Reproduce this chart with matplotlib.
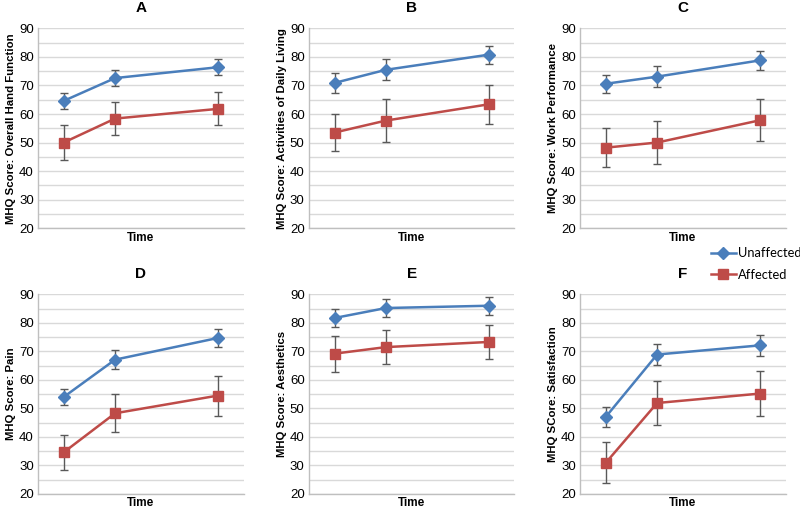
import numpy as np
import matplotlib
matplotlib.use('Agg')
import matplotlib.pyplot as plt

plt.rcParams['font.family'] = ['Liberation Sans', 'DejaVu Sans']

# time points (follow-up, months) - spacing
times = [3, 6, 12]

panels = ['A', 'B', 'C', 'D', 'E', 'F']
ylabels = ['MHQ Score: Overall Hand Function',
           'MHQ Score: Activities of Daily Living',
           'MHQ Score: Work Performance',
           'MHQ Score: Pain',
           'MHQ Score: Aesthetics',
           'MHQ SCore: Satisfaction']

# mean scores
unaffected = [
    [64.6, 72.6, 76.4],
    [70.9, 75.5, 80.8],
    [70.6, 73.1, 78.8],
    [54.0, 67.1, 74.7],
    [81.7, 85.2, 86.0],
    [47.0, 68.9, 72.1],
]
affected = [
    [50.0, 58.4, 61.8],
    [53.5, 57.7, 63.4],
    [48.2, 50.0, 57.8],
    [34.6, 48.3, 54.5],
    [69.2, 71.5, 73.3],
    [30.9, 51.9, 55.2],
]
# error bar half-widths
unaffected_err = [
    [2.9, 2.8, 2.8],
    [3.4, 3.7, 3.2],
    [3.2, 3.6, 3.4],
    [2.7, 3.4, 3.3],
    [3.3, 3.0, 3.1],
    [3.4, 3.7, 3.8],
]
affected_err = [
    [6.0, 5.7, 5.8],
    [6.6, 7.6, 6.8],
    [6.8, 7.4, 7.3],
    [6.1, 6.7, 7.0],
    [6.3, 6.0, 6.1],
    [7.2, 7.7, 7.8],
]

blue = '#4A7EBB'
red = '#BE4B48'
grid_c = '#D9D9D9'
err_c = '#595959'

fig = plt.figure(figsize=(8, 5.08), dpi=100)

lefts = [0.0475, 0.386, 0.725]
width = 0.257
bottoms = [0.551, 0.0276]
height = 0.393

handles = []
for i, name in enumerate(panels):
    r, c = divmod(i, 3)
    ax = fig.add_axes([lefts[c], bottoms[r], width, height])
    ax.set_ylim(20, 90)
    ax.set_xlim(1.5, 13.5)
    ax.set_yticks(np.arange(20, 91, 10))
    ax.set_yticks(np.arange(25, 90, 10), minor=True)
    ax.yaxis.grid(True, which='both', color=grid_c, linewidth=1)
    ax.set_axisbelow(True)
    ax.set_xticks([])
    ax.tick_params(axis='y', which='both', length=0, labelsize=9.5, pad=3)
    for s in ['top', 'right']:
        ax.spines[s].set_visible(False)
    for s in ['left', 'bottom']:
        ax.spines[s].set_color('#BFBFBF')
        ax.spines[s].set_linewidth(1)

    ax.errorbar(times, affected[i], yerr=affected_err[i], fmt='none',
                ecolor=err_c, elinewidth=1, capsize=3, capthick=1, zorder=2)
    ax.errorbar(times, unaffected[i], yerr=unaffected_err[i], fmt='none',
                ecolor=err_c, elinewidth=1, capsize=3, capthick=1, zorder=2)
    h1, = ax.plot(times, unaffected[i], color=blue, linewidth=1.8, marker='D',
                  markersize=6, zorder=3, label='Unaffected')
    h2, = ax.plot(times, affected[i], color=red, linewidth=1.8, marker='s',
                  markersize=7.5, zorder=3, label='Affected')
    if i == 0:
        handles = [h1, h2]

    ax.set_title(name, fontsize=11, fontweight='bold', pad=12)
    ax.set_xlabel('Time', fontsize=8.5, fontweight='bold', labelpad=2.5)
    ax.set_ylabel(ylabels[i], fontsize=8.2, fontweight='bold', labelpad=2)

fig.legend(handles=handles, loc='center left', bbox_to_anchor=(0.889, 0.48),
           frameon=False, handlelength=1.9, handletextpad=0.15, borderpad=0,
           borderaxespad=0, labelspacing=0.75,
           prop={'family': ['Lato', 'DejaVu Sans'], 'size': 9.3})

fig.savefig('out.png', dpi=100)
